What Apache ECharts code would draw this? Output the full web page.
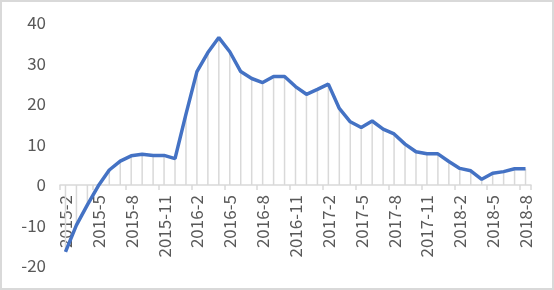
<!DOCTYPE html>
<html>
<head>
<meta charset="utf-8">
<script src="https://cdn.jsdelivr.net/npm/echarts@6/dist/echarts.min.js"></script>
<style>
html,body{margin:0;padding:0;background:#fff;}
#c{width:554px;height:290px;box-sizing:border-box;border:2px solid #d9d9d9;}
</style>
</head>
<body>
<div id="c"></div>
<script>
const categories = ['2015-2','2015-3','2015-4','2015-5','2015-6','2015-7','2015-8','2015-9','2015-10','2015-11','2015-12',
'2016-1','2016-2','2016-3','2016-4','2016-5','2016-6','2016-7','2016-8','2016-9','2016-10','2016-11','2016-12',
'2017-1','2017-2','2017-3','2017-4','2017-5','2017-6','2017-7','2017-8','2017-9','2017-10','2017-11','2017-12',
'2018-1','2018-2','2018-3','2018-4','2018-5','2018-6','2018-7','2018-8'];
const values = [-16.5,-9.9,-4.9,-0.2,3.7,5.9,7.2,7.6,7.3,7.3,6.5,
17.5,28.0,32.7,36.4,32.9,28.0,26.3,25.3,26.8,26.8,24.3,22.4,
23.6,24.9,18.9,15.6,14.2,15.8,13.8,12.6,10.1,8.2,7.7,7.7,
5.8,4.1,3.5,1.4,2.9,3.3,4.0,4.0];
const yTicks = {min:-20, max:40, interval:10};

const el = document.getElementById('c');
const chart = echarts.init(el, null, {renderer:'canvas'});
const font = '"Noto Sans CJK SC", "Liberation Sans", sans-serif';
const gridBottom = 22;
chart.setOption({
  animation:false,
  grid:{left:58, right:21, top:21, bottom:gridBottom, containLabel:false, outerBoundsMode:'none'},
  xAxis:{
    type:'category',
    data:categories,
    boundaryGap:true,
    offset:0,
    axisLine:{onZero:false, lineStyle:{color:'#d9d9d9', width:1.5}},
    axisTick:{show:true, interval:2, length:5, lineStyle:{color:'#d9d9d9', width:1.5}},
    axisLabel:{interval:2, rotate:90, margin:10, color:'#595959', fontSize:17, fontFamily:font}
  },
  yAxis:{
    type:'value',
    min:yTicks.min, max:yTicks.max, interval:yTicks.interval,
    axisLine:{show:false}, axisTick:{show:false},
    splitLine:{show:false},
    axisLabel:{color:'#595959', fontSize:17, fontFamily:font, margin:14}
  },
  series:[
    {type:'bar', data:values, barWidth:1.5, itemStyle:{color:'#d9d9d9'}, silent:true, z:1},
    {type:'line', data:values, symbol:'none', lineStyle:{color:'#4472C4', width:3.5}, z:3}
  ]
});
// move the category axis (line, ticks, labels) up to the zero value
const zeroY = chart.convertToPixel({yAxisIndex:0}, 0);
const minY = chart.convertToPixel({yAxisIndex:0}, yTicks.min);
chart.setOption({xAxis:{offset: zeroY - minY}});
</script>
</body>
</html>
